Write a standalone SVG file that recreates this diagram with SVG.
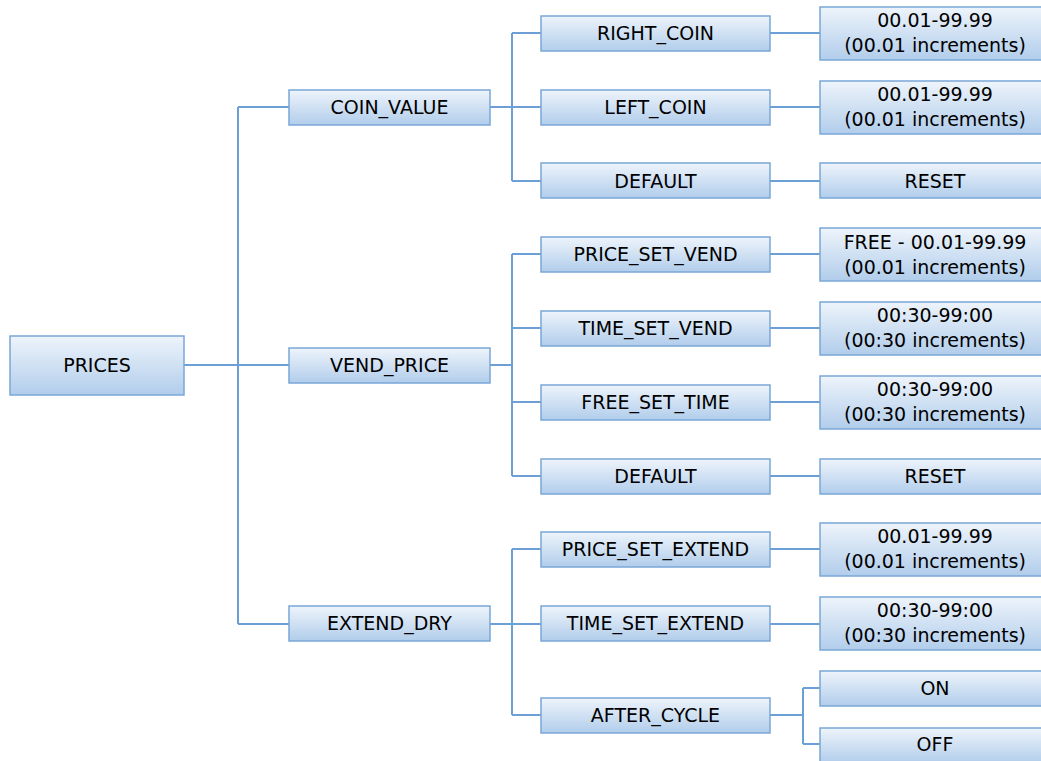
<svg xmlns="http://www.w3.org/2000/svg" width="1041" height="761" viewBox="0 0 1041 761">
<defs>
<linearGradient id="g" x1="0" y1="0" x2="0" y2="1">
<stop offset="0" stop-color="#eef4fb"/>
<stop offset="1" stop-color="#b1cdeb"/>
</linearGradient>
</defs>
<style>
.b{fill:url(#g);stroke:#7aa7d8;stroke-width:1.5}
.t{font-family:"DejaVu Sans",Verdana,sans-serif;font-size:19px;fill:#000;text-anchor:middle;dominant-baseline:central}
.c{fill:none;stroke:#6b9fd6;stroke-width:2}
</style>
<rect width="1041" height="761" fill="#fff"/>
<g id="connectors" class="c">
<path d="M184 365H289M238 107V624M238 107H289M238 624H289"/>
<path d="M490 107H541M512 33V181M512 33H541M512 181H541"/>
<path d="M770 33H820M770 107H820M770 181H820"/>
<path d="M490 365H512M512 254V476M512 254H541M512 328H541M512 402H541M512 476H541"/>
<path d="M770 254H820M770 328H820M770 402H820M770 476H820"/>
<path d="M490 624H541M512 549V715M512 549H541M512 715H541"/>
<path d="M770 549H820M770 624H820"/>
<path d="M770 715H803M803 688V744M803 688H820M803 744H820"/>
</g>
<g id="prices"><rect class="b" x="10" y="336" width="174" height="59"/><text class="t" x="97" y="365">PRICES</text></g>
<g id="coin_value"><rect class="b" x="289" y="90" width="201" height="35"/><text class="t" x="389.5" y="107">COIN_VALUE</text></g>
<g id="vend_price"><rect class="b" x="289" y="348" width="201" height="35"/><text class="t" x="389.5" y="365">VEND_PRICE</text></g>
<g id="extend_dry"><rect class="b" x="289" y="606" width="201" height="35"/><text class="t" x="389.5" y="623">EXTEND_DRY</text></g>
<g id="right_coin"><rect class="b" x="541" y="16" width="229" height="35"/><text class="t" x="655.5" y="33">RIGHT_COIN</text></g>
<g id="left_coin"><rect class="b" x="541" y="90" width="229" height="35"/><text class="t" x="655.5" y="107">LEFT_COIN</text></g>
<g id="default1"><rect class="b" x="541" y="163" width="229" height="35"/><text class="t" x="655.5" y="181">DEFAULT</text></g>
<g id="price_set_vend"><rect class="b" x="541" y="237" width="229" height="35"/><text class="t" x="655.5" y="254">PRICE_SET_VEND</text></g>
<g id="time_set_vend"><rect class="b" x="541" y="311" width="229" height="35"/><text class="t" x="655.5" y="328">TIME_SET_VEND</text></g>
<g id="free_set_time"><rect class="b" x="541" y="385" width="229" height="35"/><text class="t" x="655.5" y="402">FREE_SET_TIME</text></g>
<g id="default2"><rect class="b" x="541" y="459" width="229" height="35"/><text class="t" x="655.5" y="476">DEFAULT</text></g>
<g id="price_set_extend"><rect class="b" x="541" y="532" width="229" height="35"/><text class="t" x="655.5" y="549">PRICE_SET_EXTEND</text></g>
<g id="time_set_extend"><rect class="b" x="541" y="606" width="229" height="35"/><text class="t" x="655.5" y="623">TIME_SET_EXTEND</text></g>
<g id="after_cycle"><rect class="b" x="541" y="698" width="229" height="35"/><text class="t" x="655.5" y="715">AFTER_CYCLE</text></g>
<g id="v_right"><rect class="b" x="820" y="7" width="230" height="53"/><text class="t" x="935" y="20">00.01-99.99</text><text class="t" x="935" y="45">(00.01 increments)</text></g>
<g id="v_left"><rect class="b" x="820" y="81" width="230" height="53"/><text class="t" x="935" y="94">00.01-99.99</text><text class="t" x="935" y="119">(00.01 increments)</text></g>
<g id="reset1"><rect class="b" x="820" y="163" width="230" height="35"/><text class="t" x="935" y="181">RESET</text></g>
<g id="v_psv"><rect class="b" x="820" y="228" width="230" height="53"/><text class="t" x="935" y="242">FREE - 00.01-99.99</text><text class="t" x="935" y="267">(00.01 increments)</text></g>
<g id="v_tsv"><rect class="b" x="820" y="302" width="230" height="53"/><text class="t" x="935" y="315">00:30-99:00</text><text class="t" x="935" y="340">(00:30 increments)</text></g>
<g id="v_fst"><rect class="b" x="820" y="376" width="230" height="53"/><text class="t" x="935" y="389">00:30-99:00</text><text class="t" x="935" y="414">(00:30 increments)</text></g>
<g id="reset2"><rect class="b" x="820" y="459" width="230" height="35"/><text class="t" x="935" y="476">RESET</text></g>
<g id="v_pse"><rect class="b" x="820" y="523" width="230" height="53"/><text class="t" x="935" y="536">00.01-99.99</text><text class="t" x="935" y="561">(00.01 increments)</text></g>
<g id="v_tse"><rect class="b" x="820" y="597" width="230" height="53"/><text class="t" x="935" y="610">00:30-99:00</text><text class="t" x="935" y="635">(00:30 increments)</text></g>
<g id="on"><rect class="b" x="820" y="671" width="230" height="35"/><text class="t" x="935" y="688">ON</text></g>
<g id="off"><rect class="b" x="820" y="728" width="230" height="35"/><text class="t" x="935" y="744">OFF</text></g>
</svg>
